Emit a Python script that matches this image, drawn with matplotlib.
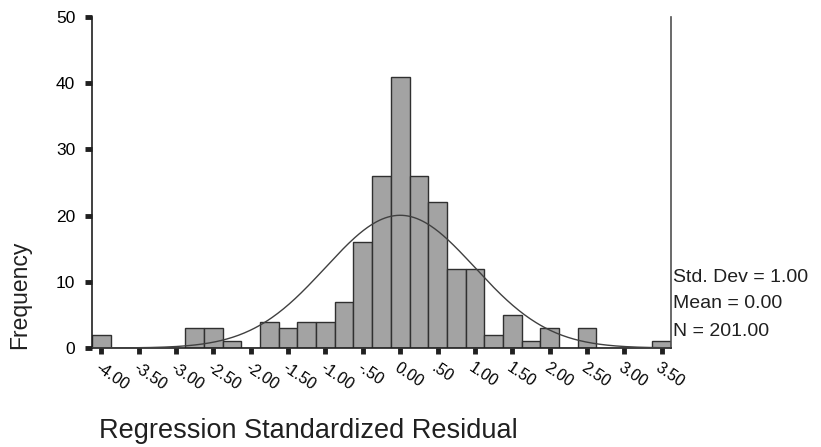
import numpy as np
import matplotlib
matplotlib.use("Agg")
import matplotlib.pyplot as plt
import matplotlib.transforms as mtransforms

plt.rcParams['font.family'] = ['Liberation Sans', 'DejaVu Sans']

# histogram of regression standardized residuals (bin width .25)
bin_centers = [-4.00, -3.75, -3.50, -3.25, -3.00, -2.75, -2.50, -2.25,
               -2.00, -1.75, -1.50, -1.25, -1.00, -0.75, -0.50, -0.25,
               0.00, 0.25, 0.50, 0.75, 1.00, 1.25, 1.50, 1.75,
               2.00, 2.25, 2.50, 2.75, 3.00, 3.25, 3.50]
counts = [2, 0, 0, 0, 0, 3, 3, 1,
          0, 4, 3, 4, 4, 7, 16, 26,
          41, 26, 22, 12, 12, 2, 5, 1,
          3, 0, 3, 0, 0, 0, 1]
bin_width = 0.25

tick_vals = [-4.0, -3.5, -3.0, -2.5, -2.0, -1.5, -1.0, -0.5,
             0.0, 0.5, 1.0, 1.5, 2.0, 2.5, 3.0, 3.5]
tick_labels = ['-4.00', '-3.50', '-3.00', '-2.50', '-2.00', '-1.50', '-1.00', '-.50',
               '0.00', '.50', '1.00', '1.50', '2.00', '2.50', '3.00', '3.50']
y_ticks = [0, 10, 20, 30, 40, 50]

std_dev = 1.00
mean = 0.00
n_cases = 201

fig = plt.figure(figsize=(8.21, 4.47), dpi=100)
ax = fig.add_axes([92/821, 1 - 348/447, (671 - 92)/821, (348 - 17)/447])

ax.bar(bin_centers, counts, width=bin_width, color='#a3a3a3',
       edgecolor='#303030', linewidth=1.0, zorder=2)

# fitted normal curve
xlo = bin_centers[0] - bin_width / 2
xhi = bin_centers[-1] + bin_width / 2
xs = np.linspace(xlo, xhi, 400)
ys = n_cases * bin_width / (std_dev * np.sqrt(2 * np.pi)) * np.exp(-0.5 * ((xs - mean) / std_dev) ** 2)
ax.plot(xs, ys, color='#404040', linewidth=1.0, zorder=3)

ax.set_xlim(xlo, xhi)
ax.set_ylim(0, 50)
ax.set_yticks(y_ticks)
ax.set_yticklabels([str(v) for v in y_ticks], fontsize=12.5)
ax.set_xticks(tick_vals)
ax.set_xticklabels(tick_labels, fontsize=11.5, rotation=-34,
                   ha='left', va='top', rotation_mode='anchor')
# nudge the slanted labels a little to the right, like the original
shift = mtransforms.ScaledTranslation(5/100, 0, fig.dpi_scale_trans)
for lbl in ax.get_xticklabels():
    lbl.set_transform(lbl.get_transform() + shift)

ax.spines['top'].set_visible(False)
for s in ['left', 'bottom', 'right']:
    ax.spines[s].set_color('#202020')
    ax.spines[s].set_linewidth(1.2)
ax.spines['right'].set_color('#505050')
ax.tick_params(axis='y', length=5, width=3.5, pad=7, color='#202020')
ax.tick_params(axis='x', length=4, width=3.5, pad=5, color='#202020')

stats_txt = ['Std. Dev = %.2f' % std_dev, 'Mean = %.2f' % mean, 'N = %d.00' % n_cases]
baselines = [282, 308, 336]
for t, yb in zip(stats_txt, baselines):
    fig.text(673/821, 1 - yb/447, t, fontsize=14,
             ha='left', va='baseline', color='#202020')

fig.text(20/821, 1 - 295/447, 'Frequency', rotation=90, fontsize=16.5,
         ha='center', va='center', color='#202020')
fig.text(99/821, 1 - 438/447, 'Regression Standardized Residual', fontsize=19.5,
         ha='left', va='baseline', color='#202020')

fig.savefig('out.png', dpi=100)
